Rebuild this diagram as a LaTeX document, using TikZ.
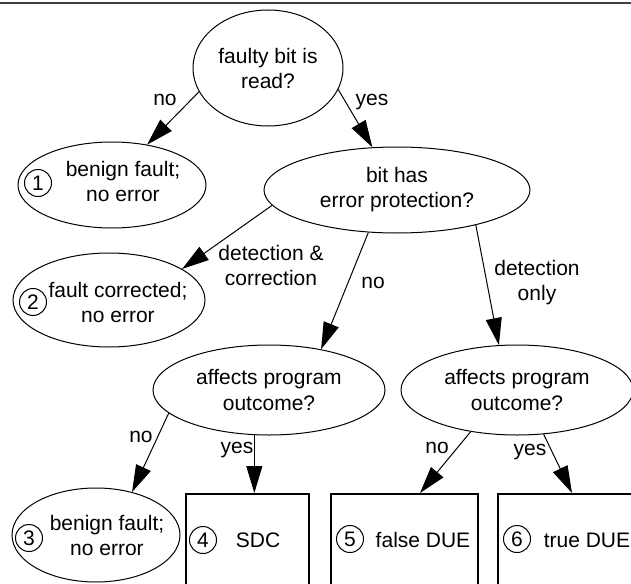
\documentclass[tikz,border=0pt]{standalone}
\usepackage{fontspec}
\setmainfont{Liberation Sans}
\usetikzlibrary{arrows.meta,shapes.geometric,calc}
\newcommand\diafont{\fontsize{21}{25}\selectfont}
\begin{document}
\begin{tikzpicture}[x=1pt,y=-1pt,
  q/.style={ellipse,draw,line width=1pt,inner sep=0pt,align=center,font=\diafont},
  res/.style={ellipse,draw,line width=1pt,inner sep=0pt},
  box/.style={rectangle,draw,line width=2pt,inner sep=0pt},
  num/.style={circle,draw,line width=1pt,minimum size=27pt,inner sep=0pt,font=\diafont},
  txt/.style={inner sep=0pt,align=center,font=\diafont},
  arr/.style={line width=1pt,-{Triangle[length=27pt,width=16pt]}}
]
\useasboundingbox (0,0) rectangle (631,583);
\clip (0,0) rectangle (631,583);
\coordinate (tl) at (0,3);
\coordinate (tr) at (631,3);
\draw[line width=1.5pt,black!75] (tl) -- (tr);

% decision ellipses
\node[q,minimum width=150pt,minimum height=116pt] (A) at (268,68) {faulty bit is\\read?};
\node[q,minimum width=266pt,minimum height=86pt] (B) at (397,190) {bit has\\error protection?};
\node[q,minimum width=232pt,minimum height=90pt] (C) at (269,390) {affects program\\outcome?};
\node[q,minimum width=232pt,minimum height=90pt] (D) at (517,390) {affects program\\outcome?};

% result ellipses
\node[res,minimum width=188pt,minimum height=86pt] (E1) at (112,185) {};
\node[txt] (t1) at (123,181) {benign fault;\\no error};
\node[num] (n1) at (38,183) {1};
\node[res,minimum width=192pt,minimum height=94pt] (E2) at (109,300) {};
\node[txt] (t2) at (118,302) {fault corrected;\\no error};
\node[num] (n2) at (33,302) {2};
\node[res,minimum width=168pt,minimum height=94pt] (E3) at (96,535) {};
\node[txt] (t3) at (107,535) {benign fault;\\no error};
\node[num] (n3) at (29,538) {3};

% result boxes
\node[box,minimum width=123pt,minimum height=116pt] (B4) at (247.5,552) {};
\node[num] (n4) at (203,540) {4};
\node[txt] (t4) at (258,540) {SDC};
\node[box,minimum width=147pt,minimum height=116pt] (B5) at (404.5,552) {};
\node[num] (n5) at (350,539) {5};
\node[txt] (t5) at (423,540) {false DUE};
\node[box,minimum width=162pt,minimum height=116pt] (B6) at (579,552) {};
\node[num] (n6) at (517,539) {6};
\node[txt] (t6) at (587,540) {true DUE};

% connectors
\draw[arr] (A.199) -- (E1.49);
\draw[arr] (A.-17) -- (B.120);
\draw[arr] (B.187.7) -- (E2.23.5);
\draw[arr] (B.236.6) -- (C.38.4);
\draw[arr] (B.-24) -- (D.112);
\draw[arr] (C.193.9) -- (E3.50.7);
\draw[arr] (C.252) -- (C.252 |- B4.north);
\draw[arr] (D.222.4) -- ($(B5.north)+(15.5,0)$);
\draw[arr] (D.-59) -- ($(B6.north)+(-7,0)$);

% connector labels
\node[txt] (l1) at (165,100) {no};
\node[txt] (l2) at (372,102) {yes};
\node[txt] (l3) at (271,265) {detection \&\\correction};
\node[txt] (l4) at (373,283) {no};
\node[txt] (l5) at (537,283) {detection\\only};
\node[txt] (l6) at (141,437) {no};
\node[txt] (l7) at (237,450) {yes};
\node[txt] (l8) at (437,448) {no};
\node[txt] (l9) at (530,452) {yes};
\end{tikzpicture}
\end{document}
